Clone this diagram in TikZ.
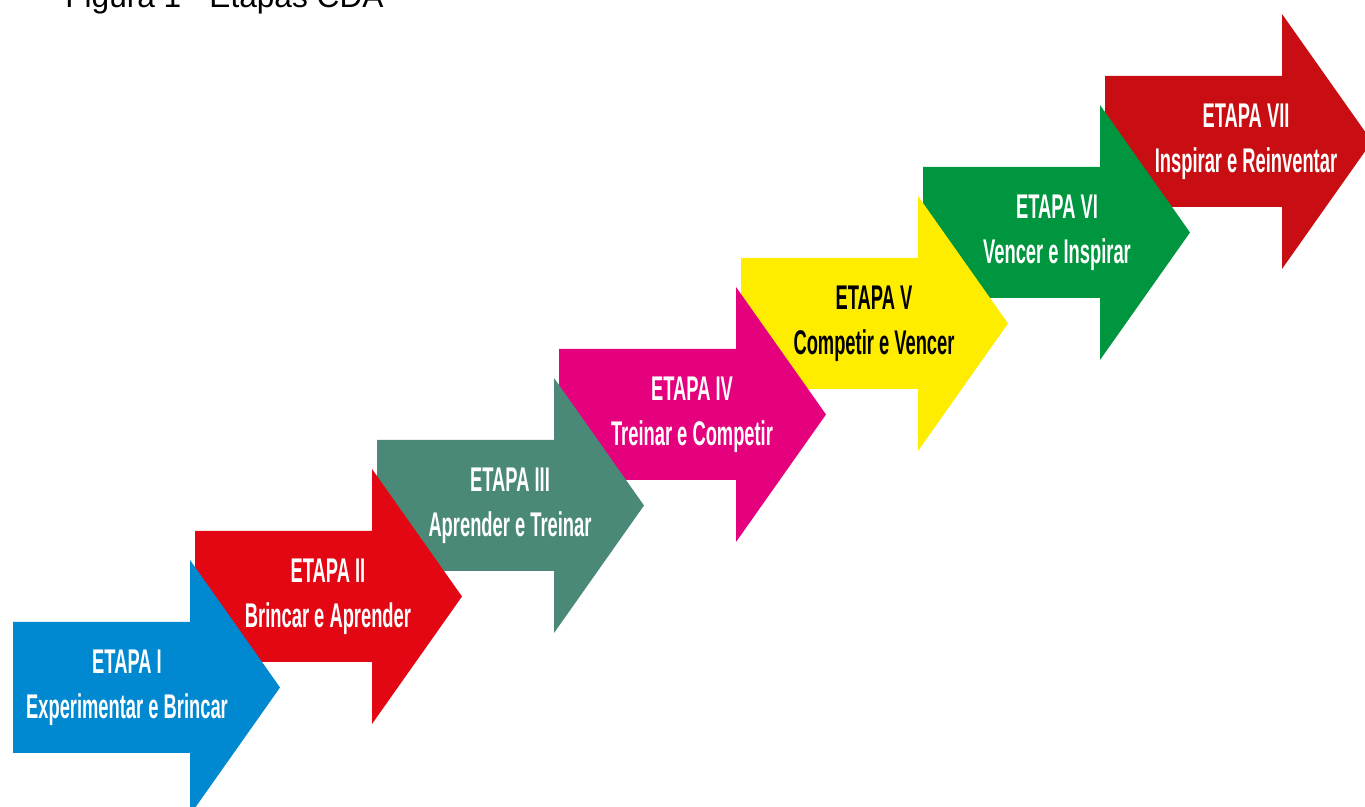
\documentclass[tikz,border=0pt]{standalone}
\usepackage{fontspec}
\setmainfont{Liberation Sans}
\newfontfamily\etapafont[FakeStretch=0.535]{Liberation Sans}
\usepackage{tikz}

\definecolor{etapaAzul}{HTML}{0089D0}
\definecolor{etapaVermelho}{HTML}{E30613}
\definecolor{etapaVerdeAgua}{HTML}{4A8877}
\definecolor{etapaMagenta}{HTML}{E5007D}
\definecolor{etapaAmarelo}{HTML}{FFED00}
\definecolor{etapaVerde}{HTML}{00963F}
\definecolor{etapaVinho}{HTML}{C80E12}

\tikzset{
  seta/.pic={\fill (0,65.5) -- (177,65.5) -- (177,127.5) -- (267,0)
     -- (177,-127.5) -- (177,-65.5) -- (0,-65.5) -- cycle;},
  etapa/.style={inner sep=0pt, align=center, text=white,
     font=\etapafont\bfseries\fontsize{19.5}{25.5}\selectfont}
}

\begin{document}
\begin{tikzpicture}[x=0.02cm,y=0.02cm]

    \useasboundingbox (0,0) rectangle (1365,807);

    \node[anchor=base west, inner sep=0pt, font=\fontsize{18}{20}\selectfont] (titulo) at (65,799) {Figura 1 - Etapas CDA};

    % setas de cima para baixo, a primeira fica por cima
    \pic[fill=etapaVinho] at (1105,665.5) {seta};
    \node[etapa] (e7) at (1246,665.5) {ETAPA VII\\Inspirar e Reinventar};

    \pic[fill=etapaVerde] at (923,574.5) {seta};
    \node[etapa] (e6) at (1057,574.5) {ETAPA VI\\Vencer e Inspirar};

    \pic[fill=etapaAmarelo] at (741,483.5) {seta};
    \node[etapa, text=black] (e5) at (874,483.5) {ETAPA V\\Competir e Vencer};

    \pic[fill=etapaMagenta] at (559,392.5) {seta};
    \node[etapa] (e4) at (692,392.5) {ETAPA IV\\Treinar e Competir};

    \pic[fill=etapaVerdeAgua] at (377,301.5) {seta};
    \node[etapa] (e3) at (510,301.5) {ETAPA III\\Aprender e Treinar};

    \pic[fill=etapaVermelho] at (195,210.5) {seta};
    \node[etapa] (e2) at (328,210.5) {ETAPA II\\Brincar e Aprender};

    \pic[fill=etapaAzul] at (13,119.5) {seta};
    \node[etapa] (e1) at (127,119.5) {ETAPA I\\Experimentar e Brincar};

\end{tikzpicture}
\end{document}
